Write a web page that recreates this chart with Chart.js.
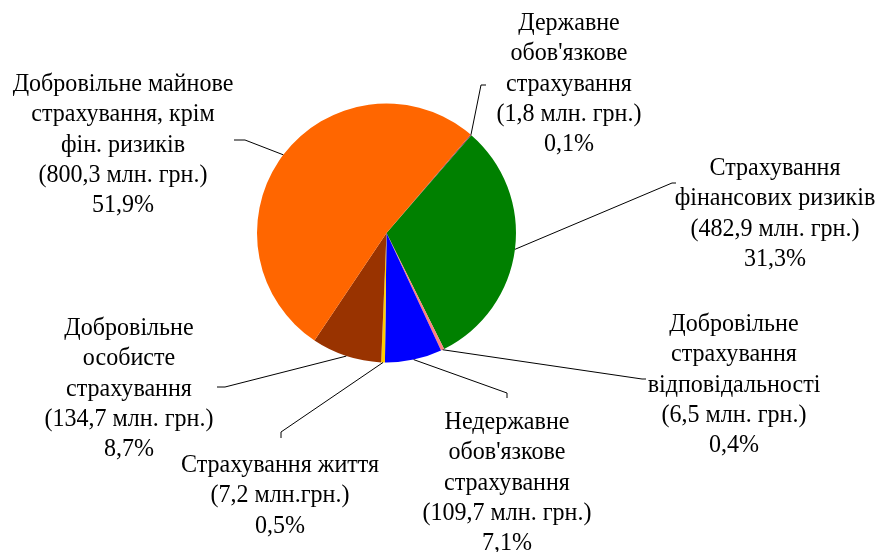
<!DOCTYPE html>
<html>
<head>
<meta charset="utf-8">
<script src="https://cdn.jsdelivr.net/npm/chart.js@4/dist/chart.umd.min.js"></script>
<style>
html,body{margin:0;padding:0;background:#fff;}
#c{display:block;}
</style>
</head>
<body>
<canvas id="c" width="879" height="552"></canvas>
<script>
// ---- data ----
const categories = [
  ["Державне", "обов'язкове", "страхування"],
  ["Страхування", "фінансових ризиків"],
  ["Добровільне", "страхування", "відповідальності"],
  ["Недержавне", "обов'язкове", "страхування"],
  ["Страхування життя"],
  ["Добровільне", "особисте", "страхування"],
  ["Добровільне майнове", "страхування, крім", "фін. ризиків"]
];
const valuesMln = [1.8, 482.9, 6.5, 109.7, 7.2, 134.7, 800.3];
const amountLabels = [
  "(1,8 млн. грн.)", "(482,9 млн. грн.)", "(6,5 млн. грн.)", "(109,7 млн. грн.)",
  "(7,2 млн.грн.)", "(134,7 млн. грн.)", "(800,3 млн. грн.)"
];
const sliceColors = ["#993366", "#008000", "#FF8080", "#0000FF", "#FFCC00", "#993300", "#FF6600"];

// ---- label layout (text anchor, leader-line elbow and end) ----
const labelLayout = [
  {x:569, y:30,  elbow:[481,85],  end:[486,85]},
  {x:775, y:175, elbow:[672,183], end:[676,183]},
  {x:734, y:331, elbow:[642,379], end:[646,379]},
  {x:507, y:429, elbow:[507,393], end:[507,398]},
  {x:280, y:472, elbow:[281,432], end:[281,438]},
  {x:129, y:335, elbow:[225,387], end:[217,387]},
  {x:123, y:91,  elbow:[245,140], end:[234,140]}
];
const FONT = '26px "Liberation Serif", "Times New Roman", serif';
const SCALE_X = 0.925;
const LINE_H = 30.3;

function pctText(v, total){
  return (Math.round(v / total * 1000) / 10).toFixed(1).replace('.', ',') + '%';
}

const labelPlugin = {
  id: 'pieLabels',
  afterDraw(chart){
    const ctx = chart.ctx;
    const meta = chart.getDatasetMeta(0);
    const total = valuesMln.reduce((a,b)=>a+b,0);
    meta.data.forEach((arc, i) => {
      const p = arc.getProps(['x','y','startAngle','endAngle','outerRadius'], true);
      const mid = (p.startAngle + p.endAngle) / 2;
      const sx = p.x + Math.cos(mid) * p.outerRadius;
      const sy = p.y + Math.sin(mid) * p.outerRadius;
      const L = labelLayout[i];
      ctx.save();
      ctx.strokeStyle = '#000';
      ctx.lineWidth = 1;
      ctx.beginPath();
      ctx.moveTo(sx, sy);
      ctx.lineTo(L.elbow[0], L.elbow[1]);
      ctx.lineTo(L.end[0], L.end[1]);
      ctx.stroke();
      ctx.restore();
      const lines = categories[i].concat([amountLabels[i], pctText(valuesMln[i], total)]);
      ctx.save();
      ctx.fillStyle = '#000';
      ctx.font = FONT;
      ctx.textAlign = 'center';
      ctx.textBaseline = 'alphabetic';
      ctx.translate(L.x, 0);
      ctx.scale(SCALE_X, 1);
      lines.forEach((t, k) => ctx.fillText(t, 0, L.y + k * LINE_H));
      ctx.restore();
    });
  }
};

new Chart(document.getElementById('c'), {
  type: 'pie',
  data: {
    labels: categories.map(c => c.join(' ')),
    datasets: [{
      data: valuesMln,
      backgroundColor: sliceColors,
      borderWidth: 0
    }]
  },
  options: {
    responsive: false,
    devicePixelRatio: 1,
    animation: false,
    rotation: 40.5,
    layout: { padding: { left: 257, right: 363, top: 103.5, bottom: 189.5 } },
    plugins: { legend: { display: false }, tooltip: { enabled: false } }
  },
  plugins: [labelPlugin]
});
</script>
</body>
</html>
